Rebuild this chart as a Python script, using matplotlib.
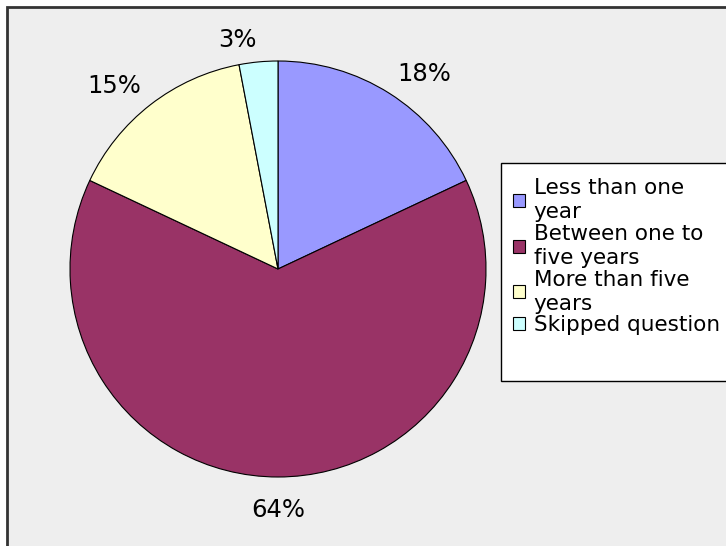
import numpy as np
import matplotlib
matplotlib.use("Agg")
import matplotlib.pyplot as plt
from matplotlib.patches import Rectangle

categories = ["Less than one\nyear", "Between one to\nfive years", "More than five\nyears", "Skipped question"]
values = [18, 64, 15, 3]
colors = ["#9999FF", "#993366", "#FFFFCC", "#CCFFFF"]

W, H = 726, 546
plt.rcParams["font.family"] = ["DejaVu Sans"]
fig = plt.figure(figsize=(W / 100, H / 100), dpi=100)
fig.patch.set_facecolor("white")

# chart area frame
fig.patches.append(Rectangle((7 / W, -0.05), 1.1, 1 - 7 / H + 0.05, transform=fig.transFigure,
                             facecolor="#EEEEEE", edgecolor="#333333", linewidth=2, zorder=0))

cx, cy, r = 278, 269, 208
ax = fig.add_axes([(cx - r) / W, (H - cy - r) / H, 2 * r / W, 2 * r / H])
ax.set_zorder(2)
wedges, texts, autotexts = ax.pie(values, colors=colors, startangle=90, counterclock=False,
                                  autopct="%d%%", pctdistance=1.1, radius=1,
                                  wedgeprops=dict(edgecolor="black", linewidth=0.8),
                                  textprops=dict(fontsize=17.5, color="black"))

# place each percentage just outside the rim, anchored on the side facing the wedge
for w, t in zip(wedges, autotexts):
    mid = np.deg2rad((w.theta1 + w.theta2) / 2)
    c, s = np.cos(mid), np.sin(mid)
    d = 1.07 if s > 0 else 1.1
    t.set_position((d * c, d * s))
    t.set_ha("center" if abs(c) < 0.05 else ("left" if c > 0 else "right"))
    t.set_va("baseline" if s > 0 else "top")

ax.set_xlim(-1, 1)
ax.set_ylim(-1, 1)
ax.set_aspect("auto")
ax.axis("off")

# legend box
lx, ly, lh = 501, 163, 218
fig.patches.append(Rectangle((lx / W, (H - ly - lh) / H), 0.5, lh / H, transform=fig.transFigure,
                             facecolor="white", edgecolor="black", linewidth=1, zorder=1))
leg = fig.legend(wedges, categories, loc="upper left", bbox_to_anchor=((lx - 3) / W, 1 - ly / H),
                 frameon=False, fontsize=15.5, handlelength=0.55, handleheight=0.55,
                 handletextpad=0.4, labelspacing=0.08, borderaxespad=0.2, borderpad=0.5)
for t in leg.get_texts():
    t.set_linespacing(1.25)
leg.set_zorder(3)

fig.savefig("out.png", dpi=100)
